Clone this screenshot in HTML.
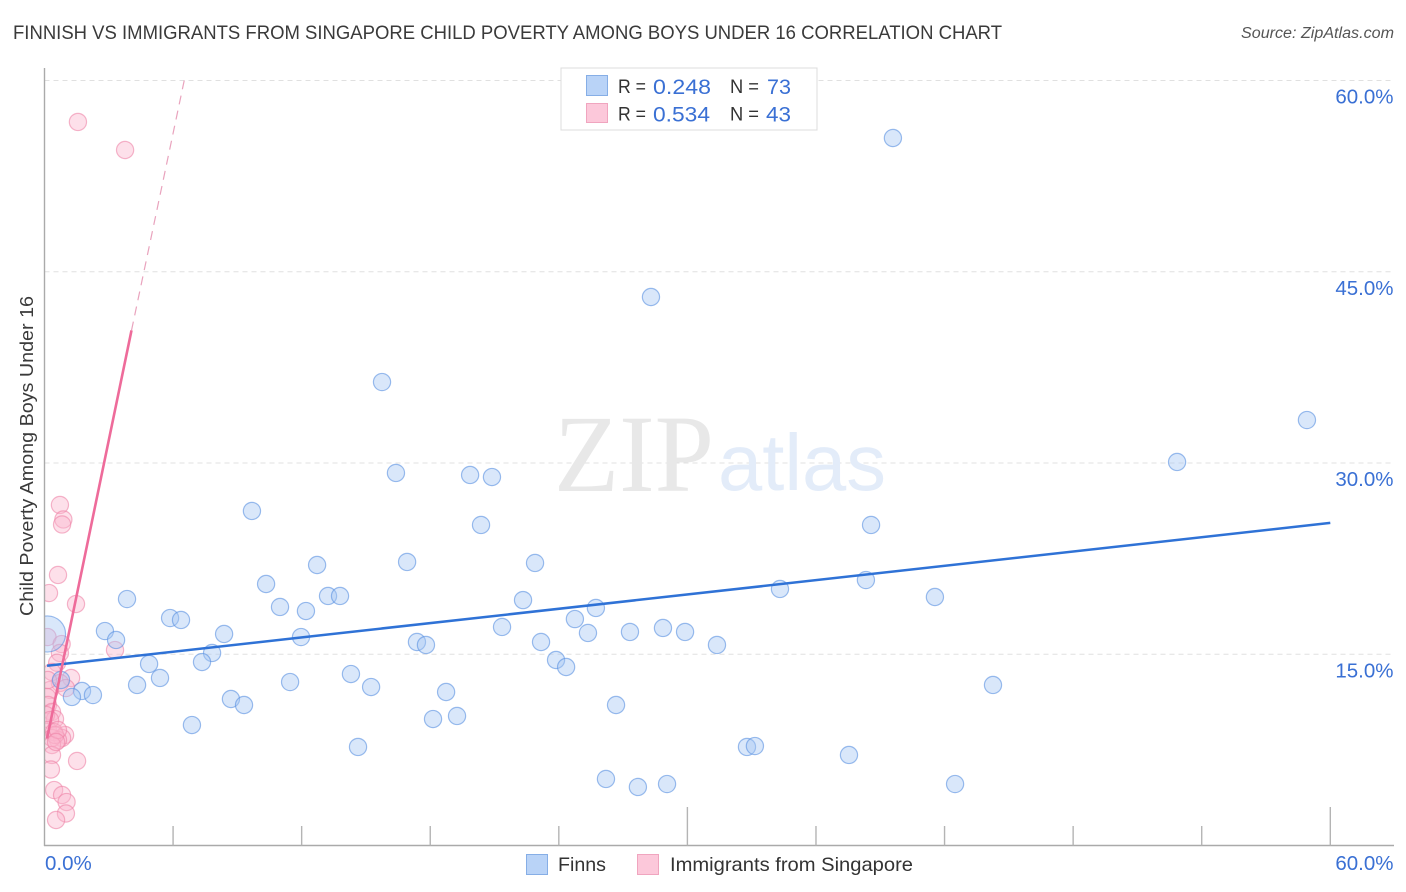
<!DOCTYPE html>
<html lang="en">
<head>
<meta charset="utf-8">
<title>Finnish vs Immigrants from Singapore Child Poverty Among Boys Under 16 Correlation Chart</title>
<style>
html,body{margin:0;padding:0;background:#fff;width:1406px;height:892px;overflow:hidden}
svg{display:block;font-family:"Liberation Sans",sans-serif}
</style>
</head>
<body>
<svg id="chart" xmlns="http://www.w3.org/2000/svg" width="1406" height="892" viewBox="0 0 1406 892">
  <defs>
    <clipPath id="plot-clip"><rect x="44.5" y="60" width="1350" height="785.5"/></clipPath>
  </defs>
  <rect x="0" y="0" width="1406" height="892" fill="#fff"/>
  <text x="13" y="39" font-size="19" fill="#3a3a3a" textLength="989" lengthAdjust="spacingAndGlyphs">FINNISH VS IMMIGRANTS FROM SINGAPORE CHILD POVERTY AMONG BOYS UNDER 16 CORRELATION CHART</text>
  <text x="1394" y="38" font-size="15.500" font-style="italic" fill="#555" text-anchor="end" textLength="153" lengthAdjust="spacingAndGlyphs">Source: ZipAtlas.com</text>
  <g id="grid"></g>
  <g>
    <text x="554" y="491" font-family="'Liberation Serif',serif" font-size="110" fill="#e8e8e8" textLength="160" lengthAdjust="spacingAndGlyphs">ZIP</text>
    <text x="718" y="490" font-size="80" fill="#e3ecf9" textLength="168" lengthAdjust="spacingAndGlyphs">atlas</text>
  </g>
  <g id="series-singapore" clip-path="url(#plot-clip)"></g>
  <g id="series-finns" clip-path="url(#plot-clip)"></g>
  <g id="trends"></g>
  <g id="axes"></g>
  <text transform="translate(33,456) rotate(-90)" font-size="18.5" fill="#3a3a3a" text-anchor="middle" textLength="320" lengthAdjust="spacingAndGlyphs">Child Poverty Among Boys Under 16</text>

  <g>
    <rect x="561" y="68" width="256" height="62" fill="#fff" stroke="#dcdcdc" stroke-width="1"/>
    <rect x="586.5" y="75.5" width="21" height="20" fill="#b9d3f7" stroke="#86aee6"/>
    <rect x="586.5" y="103.5" width="21" height="19" fill="#fcc8da" stroke="#f0a5bf"/>
    <text x="618" y="93" font-size="19.5" fill="#333" textLength="28" lengthAdjust="spacingAndGlyphs">R =</text>
    <text x="653" y="94" font-size="21" fill="#3a70d4" textLength="58" lengthAdjust="spacingAndGlyphs">0.248</text>
    <text x="730" y="93" font-size="19.5" fill="#333" textLength="29" lengthAdjust="spacingAndGlyphs">N =</text>
    <text x="767" y="94" font-size="21" fill="#3a70d4" textLength="24" lengthAdjust="spacingAndGlyphs">73</text>
    <text x="618" y="120.500" font-size="19.5" fill="#333" textLength="28" lengthAdjust="spacingAndGlyphs">R =</text>
    <text x="653" y="121.500" font-size="21" fill="#3a70d4" textLength="57" lengthAdjust="spacingAndGlyphs">0.534</text>
    <text x="730" y="120.500" font-size="19.5" fill="#333" textLength="29" lengthAdjust="spacingAndGlyphs">N =</text>
    <text x="766" y="121.500" font-size="21" fill="#3a70d4" textLength="25" lengthAdjust="spacingAndGlyphs">43</text>
  </g>

  <g>
    <rect x="526.500" y="854.500" width="21" height="20" fill="#b9d3f7" stroke="#86aee6"/>
    <text x="558" y="871" font-size="19.500" fill="#333" textLength="48" lengthAdjust="spacingAndGlyphs">Finns</text>
    <rect x="637.500" y="854.500" width="21" height="20" fill="#fcc8da" stroke="#f0a5bf"/>
    <text x="670" y="871" font-size="19.500" fill="#333" textLength="243" lengthAdjust="spacingAndGlyphs">Immigrants from Singapore</text>
  </g>
</svg>
<script>
const yTickValues = [15, 30, 45, 60];
const yTickLabels = ['15.0%', '30.0%', '45.0%', '60.0%'];
const xTickValues = [0, 6, 12, 18, 24, 30, 36, 42, 48, 54, 60];
const xEndLabels = ['0.0%', '60.0%'];
const finnsX = [39.59,28.30,15.75,58.91,52.85,16.40,19.86,20.88,9.68,20.37,38.57,22.89,16.92,12.72,10.34,38.33,34.32,3.85,13.23,13.79,41.55,22.33,10.99,12.20,25.73,5.86,6.37,24.75,21.35,28.86,27.32,29.89,25.36,8.38,2.82,3.34,11.97,17.38,17.80,23.17,31.38,7.82,23.87,7.35,24.34,4.88,14.30,5.39,4.32,11.46,15.24,44.26,1.75,2.26,1.28,18.74,8.70,9.31,26.67,0.77,18.13,19.25,6.88,14.63,32.78,33.15,37.54,26.20,27.69,29.05,42.49,0.14];
const finnsY = [55.49,43.02,36.35,33.37,30.08,29.22,29.06,28.90,26.24,25.14,25.14,22.16,22.24,22.00,20.51,20.82,20.12,19.33,19.57,19.57,19.49,19.25,18.71,18.39,18.63,17.84,17.69,17.76,17.14,17.06,16.75,16.75,16.67,16.59,16.82,16.12,16.35,15.96,15.73,15.96,15.73,15.10,14.55,14.39,14.00,14.24,13.45,13.14,12.59,12.82,12.43,12.59,12.12,11.80,11.65,12.04,11.49,11.02,11.02,12.98,9.92,10.16,9.45,7.73,7.73,7.80,7.10,5.22,4.59,4.82,4.82,16.59];
const finnsWeight = [1,1,1,1,1,1,1,1,1,1,1,1,1,1,1,1,1,1,1,1,1,1,1,1,1,1,1,1,1,1,1,1,1,1,1,1,1,1,1,1,1,1,1,1,1,1,1,1,1,1,1,1,1,1,1,1,1,1,1,1,1,1,1,1,1,1,1,1,1,1,1,2.1];
const singaporeX = [1.56,3.76,0.72,0.88,0.82,0.63,0.21,1.47,0.14,0.80,3.29,0.72,0.59,1.24,0.35,0.72,1.00,0.26,0.12,0.16,0.35,0.49,0.07,0.26,0.16,0.44,0.96,0.82,0.63,0.35,0.49,0.35,0.35,1.52,0.30,0.45,0.82,1.03,1.00,0.54,0.63,0.16,0.54];
const singaporeY = [56.75,54.55,26.71,25.57,25.18,21.22,19.80,18.94,16.35,15.80,15.33,15.10,14.33,13.14,13.61,12.75,12.35,12.20,11.65,11.02,10.47,9.92,10.24,9.84,9.06,8.90,8.67,8.43,8.27,8.43,8.67,7.88,7.10,6.63,5.96,4.35,3.96,3.41,2.51,2.00,9.06,12.98,8.12];
const finnsTrendX = [0.12, 60];
const finnsTrendY = [14.1, 25.3];
const singaporeTrendX = [0.12, 4.06];
const singaporeTrendY = [8.4, 40.4];
const singaporeTrendExtendedX = [4.06, 6.52];
const singaporeTrendExtendedY = [40.4, 60];

const svgNS = 'http://www.w3.org/2000/svg';
const xScale = function (v) { return 44.5 + v * 21.43; };
const yScale = function (v) { return 845.5 - v * 12.75; };
const make = function (tag, parent) {
  const el = document.createElementNS(svgNS, tag);
  parent.appendChild(el);
  return el;
};
const setAll = function (el, attrs) {
  Object.keys(attrs).forEach(function (k) { el.setAttribute(k, attrs[k]); });
};

const grid = document.getElementById('grid');
const axes = document.getElementById('axes');
const trends = document.getElementById('trends');

yTickValues.forEach(function (v, i) {
  const line = make('line', grid);
  
  
  setAll(line, {x1: 44.5, x2: 1394, y1: yScale(v), y2: yScale(v), stroke: '#e0e0e0', 'stroke-width': 1, 'stroke-dasharray': '5 4'});
  const label = make('text', axes);
  
  
  setAll(label, {x: 1393.5, y: yScale(v) + 23, 'font-size': 20.5, fill: '#3a70d4', 'text-anchor': 'end'});
  label.textContent = yTickLabels[i];
});

const yAxis = make('line', axes);


setAll(yAxis, {x1: 44.5, x2: 44.5, y1: 68, y2: 846, stroke: '#aaa', 'stroke-width': 1.4});
const xAxis = make('line', axes);


setAll(xAxis, {x1: 44, x2: 1394, y1: 845.5, y2: 845.5, stroke: '#aaa', 'stroke-width': 1.4});

xTickValues.slice(1).forEach(function (v) {
  const tick = make('line', axes);
  
  
  const top = (v % 30 === 0) ? 807 : 826;
  setAll(tick, {x1: xScale(v), x2: xScale(v), y1: top, y2: 845.5, stroke: '#b4b4b4', 'stroke-width': 1.4});
});

const xLabelStart = make('text', axes);


setAll(xLabelStart, {x: 45, y: 870, 'font-size': 20.5, fill: '#3a70d4'});
xLabelStart.textContent = xEndLabels[0];
const xLabelEnd = make('text', axes);


setAll(xLabelEnd, {x: 1393.5, y: 870, 'font-size': 20.5, fill: '#3a70d4', 'text-anchor': 'end'});
xLabelEnd.textContent = xEndLabels[1];

const singaporeGroup = document.getElementById('series-singapore');
singaporeX.forEach(function (v, i) {
  const c = make('circle', singaporeGroup);
  
  
  setAll(c, {cx: xScale(v), cy: yScale(singaporeY[i]), r: 8.6, fill: 'rgba(250,180,205,0.42)', stroke: 'rgba(238,130,165,0.58)', 'stroke-width': 1.2});
});

const finnsGroup = document.getElementById('series-finns');
finnsX.forEach(function (v, i) {
  const c = make('circle', finnsGroup);
  
  
  setAll(c, {cx: xScale(v), cy: yScale(finnsY[i]), r: 8.6 * finnsWeight[i], fill: 'rgba(165,198,243,0.42)', stroke: 'rgba(90,145,225,0.6)', 'stroke-width': 1.2});
});

const finnsLine = make('line', trends);


setAll(finnsLine, {x1: xScale(finnsTrendX[0]), y1: yScale(finnsTrendY[0]), x2: xScale(finnsTrendX[1]), y2: yScale(finnsTrendY[1]), stroke: '#2f72d6', 'stroke-width': 2.5});

const singaporeLine = make('line', trends);


setAll(singaporeLine, {x1: xScale(singaporeTrendX[0]), y1: yScale(singaporeTrendY[0]), x2: xScale(singaporeTrendX[1]), y2: yScale(singaporeTrendY[1]), stroke: '#ee6b9a', 'stroke-width': 2.6});

const singaporeDash = make('line', trends);


setAll(singaporeDash, {x1: xScale(singaporeTrendExtendedX[0]), y1: yScale(singaporeTrendExtendedY[0]), x2: xScale(singaporeTrendExtendedX[1]), y2: yScale(singaporeTrendExtendedY[1]), stroke: '#e9a3bd', 'stroke-width': 1.2, 'stroke-dasharray': '9 6.4'});
</script>
</body>
</html>
